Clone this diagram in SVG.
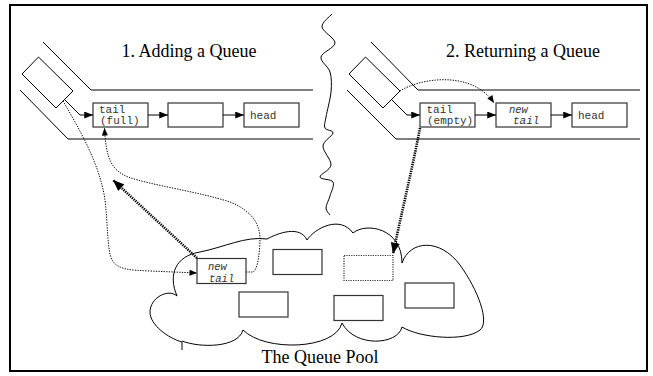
<svg xmlns="http://www.w3.org/2000/svg" width="653" height="376" viewBox="0 0 653 376">
<style>
.ln{fill:none;stroke:#000;stroke-width:1}
.bx{fill:#fff;stroke:#333;stroke-width:1.2}
.dbx{fill:#fff;stroke:#333;stroke-width:1.2;stroke-dasharray:1.2 1.2}
.mono{font-family:"Liberation Mono",monospace;font-size:11px;fill:#333}
.it{font-style:italic;font-size:10.5px}
.ttl{font-family:"Liberation Serif",serif;font-size:18px;fill:#000}
.thin{fill:none;stroke:#000;stroke-width:1;stroke-dasharray:1.3 1.3}
.thick{fill:none;stroke:#000;stroke-width:2.6;stroke-dasharray:1.3 1}
.solid{fill:none;stroke:#000;stroke-width:1}
</style>
<defs>
<marker id="ah" viewBox="0 0 10 8" refX="10" refY="4" markerWidth="9" markerHeight="7" markerUnits="userSpaceOnUse" orient="auto"><path d="M0,0L10,4L0,8z" fill="#000"/></marker>
<marker id="ahs" viewBox="0 0 10 8" refX="10" refY="4" markerWidth="8" markerHeight="6" markerUnits="userSpaceOnUse" orient="auto"><path d="M0,0L10,4L0,8z" fill="#000"/></marker>
<marker id="ahb" viewBox="0 0 10 8" refX="10" refY="4" markerWidth="13" markerHeight="9" markerUnits="userSpaceOnUse" orient="auto"><path d="M0,0L10,4L0,8z" fill="#000"/></marker>
</defs>
<rect x="10" y="5" width="637" height="366" fill="#fff" stroke="#000" stroke-width="2"/>

<g id="divider">
<path class="ln" d="M332,14 C330.3,16.2 321.5,22.2 322,27 C322.5,31.8 335.2,38 335,43 C334.8,48 321.8,52.2 321,57 C320.2,61.8 328.3,66.2 330,72 C331.7,77.8 331.7,84.5 331,92 C330.3,99.5 327,111 326,117 C325,123 323.8,125.3 325,128 C326.2,130.7 333.3,130 333,133 C332.7,136 323.3,140.7 323,146 C322.7,151.3 331.5,159.8 331,165 C330.5,170.2 319.7,174.2 320,177 C320.3,179.8 331.3,178.8 333,182 C334.7,185.2 331.2,191.7 330,196 C328.8,200.3 326,204.8 326,208 C326,211.2 329.3,213.8 330,215"/>
</g>

<g id="section1">
<text class="ttl" x="121.5" y="56.5">1. Adding a Queue</text>
<path class="ln" d="M43,42 L91,90 L313,90"/>
<path class="ln" d="M20,90 L68,139 L313,139"/>
<polygon class="ln" points="22,74 38.5,57 73,91 56,108"/>
</g>

<g id="section2">
<text class="ttl" x="446" y="56.5">2. Returning a Queue</text>
<path class="ln" d="M371,42 L418,90 L640,90"/>
<path class="ln" d="M347,90 L396,139 L640,139"/>
<polygon class="ln" points="349,74 365.5,57 400,91 383,108"/>
</g>

<g id="tail-full">
<rect class="bx" x="93" y="103" width="55" height="24"/>
<text class="mono" x="99" y="112.5">tail</text>
<text class="mono" x="100" y="123.5">(full)</text>
</g>
<g id="middle1"><rect class="bx" x="168" y="103" width="55" height="24"/></g>
<g id="head1">
<rect class="bx" x="244" y="103" width="55" height="24"/>
<text class="mono" x="250" y="119">head</text>
</g>

<g id="tail-empty">
<rect class="bx" x="420" y="103" width="55" height="24"/>
<text class="mono" x="426.5" y="112.5">tail</text>
<text class="mono" x="427" y="123.5">(empty)</text>
</g>
<g id="new-tail2">
<rect class="bx" x="496" y="103" width="55" height="24"/>
<text class="mono it" x="509" y="112.5">new</text>
<text class="mono" x="513" y="124" font-style="italic">tail</text>
</g>
<g id="head2">
<rect class="bx" x="572" y="103" width="55" height="24"/>
<text class="mono" x="578" y="119">head</text>
</g>

<g id="pool">
<path class="ln" d="M182,350 L182,342 C168,338 150,325 150,312 C150,298 168,288 177,296 C168,275 175,256 200,252 C225,247 245,236 267,239 C278,233 300,225 307,240 C315,228 340,215 353,233 C366,222 402,228 402,263 C410,240 440,238 460,265 C478,290 490,322 480,330 C465,342 420,338 402,327 C398,345 355,348 342,323 C335,350 265,352 243,330 C238,348 200,348 182,341"/>
<text class="ttl" x="320" y="363" text-anchor="middle">The Queue Pool</text>
</g>
<g id="new-tail-pool">
<rect class="bx" x="197" y="258.5" width="49" height="25"/>
<text class="mono it" x="208" y="270">new</text>
<text class="mono it" x="209" y="281.5">tail</text>
</g>
<g id="pool-q1"><rect class="bx" x="273" y="249.5" width="49" height="25"/></g>
<g id="pool-slot"><rect class="dbx" x="344" y="255.5" width="49" height="25"/></g>
<g id="pool-q2"><rect class="bx" x="239" y="292" width="49" height="25"/></g>
<g id="pool-q3"><rect class="bx" x="334" y="295.5" width="49" height="25"/></g>
<g id="pool-q4"><rect class="bx" x="405" y="283" width="49" height="25"/></g>

<g id="connectors">
<path class="solid" d="M64,99 L80,115 L93,115" marker-end="url(#ah)"/>
<path class="solid" d="M148,115 L168,115" marker-end="url(#ah)"/>
<path class="solid" d="M223,115 L244,115" marker-end="url(#ah)"/>
<path class="solid" d="M391,99 L407,115 L420,115" marker-end="url(#ah)"/>
<path class="solid" d="M475,115 L496,115" marker-end="url(#ah)"/>
<path class="solid" d="M551,115 L572,115" marker-end="url(#ah)"/>
<path class="thin" d="M63,101 C80,130 100,165 105,200 C108,225 107,250 112,260 C118,270 130,270 150,271 L197,273" marker-end="url(#ahs)"/>
<path class="thin" d="M246,272 L253,272 C258,270 260,250 260,237 C259,222 250,210 230,202 C200,192 150,185 128,177 C112,170 106,160 104.5,128" marker-end="url(#ahs)"/>
<path class="thick" d="M197,258 L113,180" marker-end="url(#ahb)"/>
<path class="thin" d="M400,91 C420,78 472,70 494,103" marker-end="url(#ahs)"/>
<path class="thick" d="M420,128 C412,170 401,215 393,254" marker-end="url(#ahb)"/>
</g>
</svg>
